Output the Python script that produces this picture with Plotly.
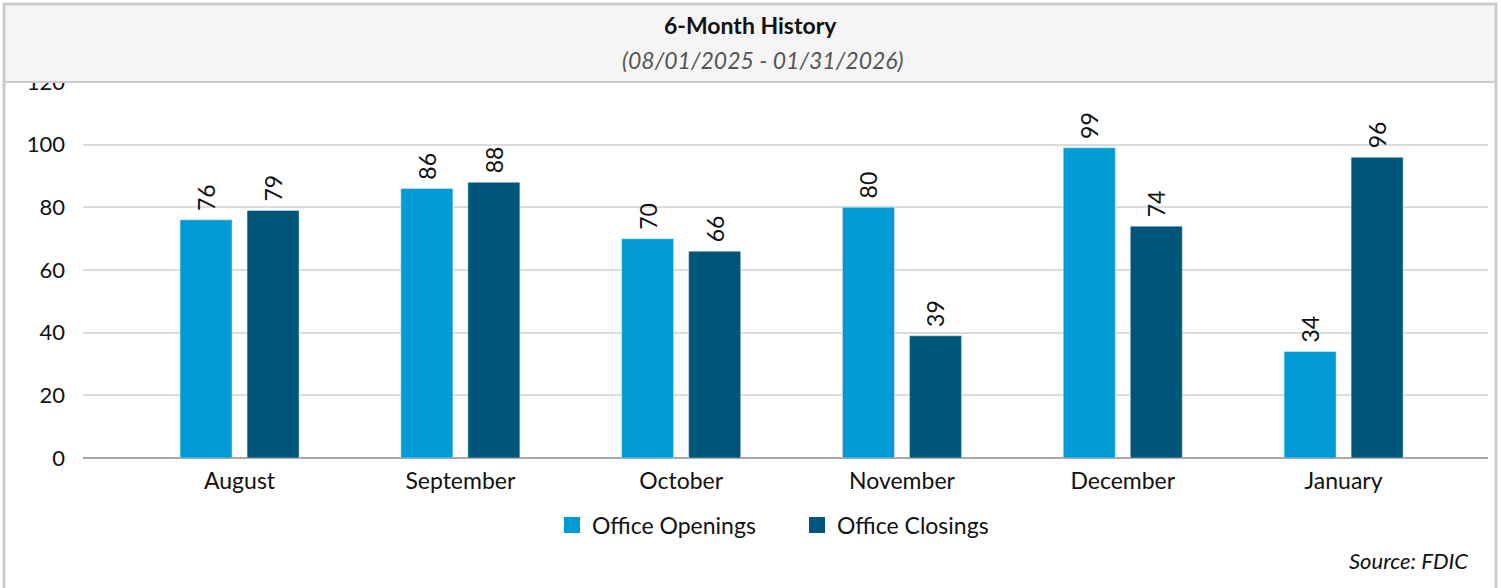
import plotly.graph_objects as go

months = ["August", "September", "October", "November", "December", "January"]
openings = [76, 86, 70, 80, 99, 34]
closings = [79, 88, 66, 39, 74, 96]
series_names = ["Office Openings", "Office Closings"]
colors = ["#009bd5", "#00567a"]
title = "6-Month History"
subtitle = "(08/01/2025 - 01/31/2026)"
source = "Source: FDIC"

W, H = 1501, 588
ML, MR, MT, MB = 83, W - 1488, 82, H - 458
PW, PH = W - ML - MR, H - MT - MB
FONT = "Lato"

def px_x(x):
    return (x - ML) / PW

def px_y(y):
    return (H - MB - y) / PH

fig = go.Figure()
for name, vals, col in zip(series_names, [openings, closings], colors):
    fig.add_trace(go.Bar(
        x=months, y=vals, name=name, marker_color=col, showlegend=False,
        text=["\u00a0" + str(v) for v in vals], textposition="outside", textangle=-90,
        textfont=dict(size=23, color="#111", family=FONT), cliponaxis=False,
    ))
for name, col in zip(series_names, colors):
    fig.add_trace(go.Scatter(
        x=[None], y=[None], mode="markers", name=name,
        marker=dict(symbol="square", size=17, color=col),
    ))

fig.update_layout(
    width=W, height=H,
    margin=dict(l=ML, r=MR, t=MT, b=MB, pad=0),
    paper_bgcolor="white", plot_bgcolor="white",
    font=dict(family=FONT, size=22, color="#111"),
    barmode="group", bargap=0.393, bargroupgap=0.224,
    showlegend=True,
    legend=dict(orientation="h", x=px_x(797), xanchor="center", y=px_y(525), yanchor="middle",
                font=dict(size=23, family=FONT, color="#111"), itemsizing="trace",
                entrywidth=200, entrywidthmode="pixels"),
    xaxis=dict(range=[-0.709, 5.654], showgrid=False, showline=False, zeroline=False,
               ticks="", tickfont=dict(size=23), ticklabelstandoff=7),
    yaxis=dict(range=[0, 120], dtick=20, showgrid=True, gridcolor="#dcdcdc", gridwidth=2,
               zeroline=True, zerolinecolor="#a8a8a8", zerolinewidth=2, showline=False,
               ticks="", tickfont=dict(size=22), ticklabelstandoff=17),
    shapes=[
        dict(type="rect", xref="paper", yref="paper", layer="above",
             x0=px_x(4), x1=px_x(1496), y0=px_y(82), y1=px_y(4),
             fillcolor="#f5f5f5", line=dict(color="#cccccc", width=2)),
        dict(type="rect", xref="paper", yref="paper", layer="above",
             x0=px_x(4), x1=px_x(1496), y0=px_y(600), y1=px_y(4),
             fillcolor="rgba(0,0,0,0)", line=dict(color="#cccccc", width=3)),
    ],
    annotations=[
        dict(text="<b>" + title + "</b>", xref="paper", yref="paper", x=px_x(750), y=px_y(25),
             xanchor="center", yanchor="middle", showarrow=False,
             font=dict(size=23, family=FONT, color="#111")),
        dict(text="<i>" + subtitle + "</i>", xref="paper", yref="paper", x=px_x(763), y=px_y(60),
             xanchor="center", yanchor="middle", showarrow=False,
             font=dict(size=23, family=FONT, color="#555")),
        dict(text="<i>" + source + "</i>", xref="paper", yref="paper", x=px_x(1470), y=px_y(560),
             xanchor="right", yanchor="middle", showarrow=False,
             font=dict(size=22, family=FONT, color="#111")),
    ],
)

fig.write_html("out.html")
